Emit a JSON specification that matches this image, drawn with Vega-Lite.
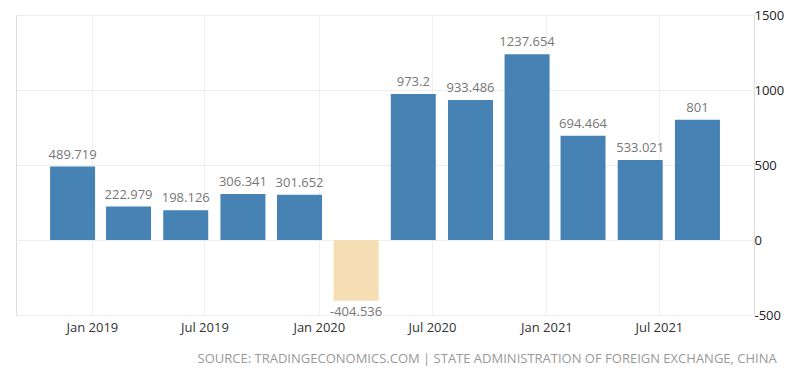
{
  "$schema": "https://vega.github.io/schema/vega-lite/v6.json",
  "width": 738,
  "height": 300,
  "autosize": "none",
  "padding": {"left": 16, "top": 15, "right": 46, "bottom": 64},
  "background": "white",
  "config": {
    "locale": {
      "number": {"decimal": ".", "thousands": "", "grouping": [3], "currency": ["", ""], "minus": "-"}
    }
  },
  "title": {
    "text": "SOURCE: TRADINGECONOMICS.COM | STATE ADMINISTRATION OF FOREIGN EXCHANGE, CHINA",
    "orient": "bottom",
    "anchor": "end",
    "dx": -7,
    "offset": 19,
    "font": "Open Sans",
    "fontSize": 13,
    "fontWeight": "normal",
    "color": "#999999"
  },
  "data": {
    "values": [
      {"date": "2018-12-01", "value": 489.719},
      {"date": "2019-03-01", "value": 222.979},
      {"date": "2019-06-01", "value": 198.126},
      {"date": "2019-09-01", "value": 306.341},
      {"date": "2019-12-01", "value": 301.652},
      {"date": "2020-03-01", "value": -404.536},
      {"date": "2020-06-01", "value": 973.2},
      {"date": "2020-09-01", "value": 933.486},
      {"date": "2020-12-01", "value": 1237.654},
      {"date": "2021-03-01", "value": 694.464},
      {"date": "2021-06-01", "value": 533.021},
      {"date": "2021-09-01", "value": 801}
    ]
  },
  "encoding": {
    "x": {
      "field": "date",
      "type": "temporal",
      "scale": {"domain": ["2018-09-01", "2021-12-01"], "padding": 0, "nice": false},
      "axis": {
        "title": null,
        "format": "%b %Y",
        "values": [
          {"year": 2019, "month": 1, "date": 1},
          {"year": 2019, "month": 7, "date": 1},
          {"year": 2020, "month": 1, "date": 1},
          {"year": 2020, "month": 7, "date": 1},
          {"year": 2021, "month": 1, "date": 1},
          {"year": 2021, "month": 7, "date": 1}
        ],
        "domain": false,
        "ticks": false,
        "grid": true,
        "gridColor": "#f0f0f0",
        "labelFont": "Open Sans",
        "labelFontSize": 13,
        "labelColor": "#333333",
        "labelPadding": 6
      }
    },
    "y": {
      "field": "value",
      "type": "quantitative",
      "scale": {"domain": [-500, 1500], "nice": false, "padding": 0},
      "axis": {
        "title": null,
        "orient": "right",
        "values": [-500, 0, 500, 1000, 1500],
        "format": "d",
        "domain": false,
        "ticks": false,
        "grid": true,
        "gridColor": "#eeeeee",
        "labelFont": "Open Sans",
        "labelFontSize": 13,
        "labelColor": "#222222",
        "labelPadding": 0
      }
    }
  },
  "layer": [
    {
      "mark": {"type": "bar", "width": 45},
      "encoding": {
        "color": {
          "condition": {"test": "datum.value < 0", "value": "#f5deb3"},
          "value": "#4682b4"
        }
      }
    },
    {
      "transform": [{"filter": "datum.value >= 0"}],
      "mark": {"type": "text", "baseline": "bottom", "dy": -5, "font": "Open Sans", "fontSize": 13, "color": "#777777"},
      "encoding": {"text": {"field": "value", "type": "quantitative"}}
    },
    {
      "transform": [{"filter": "datum.value < 0"}],
      "mark": {"type": "text", "baseline": "top", "dy": 5, "font": "Open Sans", "fontSize": 13, "color": "#777777"},
      "encoding": {"text": {"field": "value", "type": "quantitative"}}
    }
  ]
}
